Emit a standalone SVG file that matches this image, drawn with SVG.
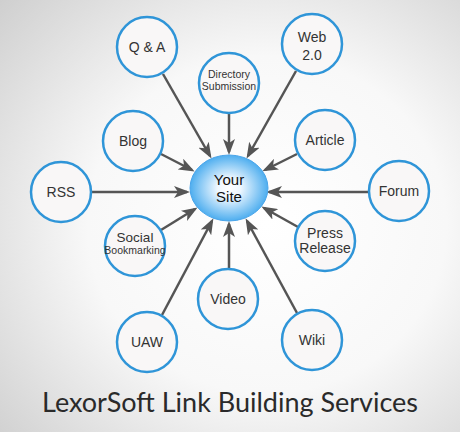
<svg xmlns="http://www.w3.org/2000/svg" width="460" height="432" viewBox="0 0 460 432">
<defs>
<radialGradient id="bg" cx="0.58" cy="0.52" r="0.78">
<stop offset="0" stop-color="#ffffff"/>
<stop offset="0.5" stop-color="#f8f8f8"/>
<stop offset="1" stop-color="#cfcfcf"/>
</radialGradient>
<radialGradient id="hub" cx="0.5" cy="0.5" r="0.5">
<stop offset="0" stop-color="#ffffff"/>
<stop offset="0.3" stop-color="#eef7ff"/>
<stop offset="1" stop-color="#4eaeef"/>
</radialGradient>
<marker id="arr" markerUnits="userSpaceOnUse" viewBox="0 0 16 12" markerWidth="16" markerHeight="12" refX="13" refY="6" orient="auto">
<path d="M0,0 L16,6 L0,12 L4,6 Z" fill="#555555"/>
</marker>
</defs>
<style>
.n{fill:#f9f7f7;stroke:#2f95d8;stroke-width:2.5}
.t{font-family:"Liberation Sans",Arial,sans-serif;font-size:14px;fill:#333333;text-anchor:middle}
.s{font-size:10.5px}
.c{stroke:#555555;stroke-width:2.5;fill:none;marker-end:url(#arr)}
</style>
<rect width="460" height="432" fill="url(#bg)"/>
<g id="connectors">
<line class="c" x1="163" y1="74" x2="210" y2="156"/>
<line class="c" x1="229" y1="114" x2="229" y2="152"/>
<line class="c" x1="296" y1="71" x2="248" y2="156"/>
<line class="c" x1="161" y1="154" x2="192" y2="170"/>
<line class="c" x1="297" y1="154" x2="265" y2="170"/>
<line class="c" x1="91" y1="192" x2="187" y2="192"/>
<line class="c" x1="369" y1="192" x2="269" y2="192"/>
<line class="c" x1="161" y1="230" x2="195" y2="209"/>
<line class="c" x1="298" y1="227" x2="264" y2="208"/>
<line class="c" x1="229" y1="269" x2="229" y2="224"/>
<line class="c" x1="162" y1="315" x2="212" y2="221"/>
<line class="c" x1="297" y1="313" x2="247" y2="221"/>
</g>
<g id="hub-node">
<ellipse cx="229" cy="188" rx="39" ry="33" fill="url(#hub)" stroke="#4aa5ea" stroke-width="1"/>
<text class="t" x="229" y="185" style="font-size:15px;fill:#111">Your</text>
<text class="t" x="229" y="202" style="font-size:15px;fill:#111">Site</text>
</g>
<g id="qa"><circle class="n" cx="147" cy="47" r="30"/><text class="t" x="147" y="52">Q &amp; A</text></g>
<g id="directory"><circle class="n" cx="229" cy="83" r="30"/><text class="t s" x="229" y="78">Directory</text><text class="t s" x="229" y="90">Submission</text></g>
<g id="web20"><circle class="n" cx="312" cy="44" r="30"/><text class="t" x="312" y="42">Web</text><text class="t" x="312" y="60">2.0</text></g>
<g id="blog"><circle class="n" cx="133" cy="141" r="30"/><text class="t" x="133" y="146">Blog</text></g>
<g id="article"><circle class="n" cx="325" cy="140" r="30"/><text class="t" x="325" y="145">Article</text></g>
<g id="rss"><circle class="n" cx="61" cy="192" r="30"/><text class="t" x="61" y="197">RSS</text></g>
<g id="forum"><circle class="n" cx="399" cy="191" r="30"/><text class="t" x="399" y="196">Forum</text></g>
<g id="social"><circle class="n" cx="135" cy="246" r="30"/><text class="t" x="135" y="242" style="font-size:13.5px">Social</text><text class="t s" x="135" y="254">Bookmarking</text></g>
<g id="press"><circle class="n" cx="325" cy="241" r="30"/><text class="t" x="325" y="238">Press</text><text class="t" x="325" y="253">Release</text></g>
<g id="video"><circle class="n" cx="228" cy="299" r="30"/><text class="t" x="228" y="304">Video</text></g>
<g id="uaw"><circle class="n" cx="147" cy="342" r="30"/><text class="t" x="147" y="347">UAW</text></g>
<g id="wiki"><circle class="n" cx="312" cy="340" r="30"/><text class="t" x="312" y="345">Wiki</text></g>
<text x="42" y="412" textLength="376" lengthAdjust="spacing" style="font-family:Lato,'Liberation Sans',sans-serif;font-weight:400;font-size:27px;fill:#2a2a2a">LexorSoft Link Building Services</text>
</svg>
